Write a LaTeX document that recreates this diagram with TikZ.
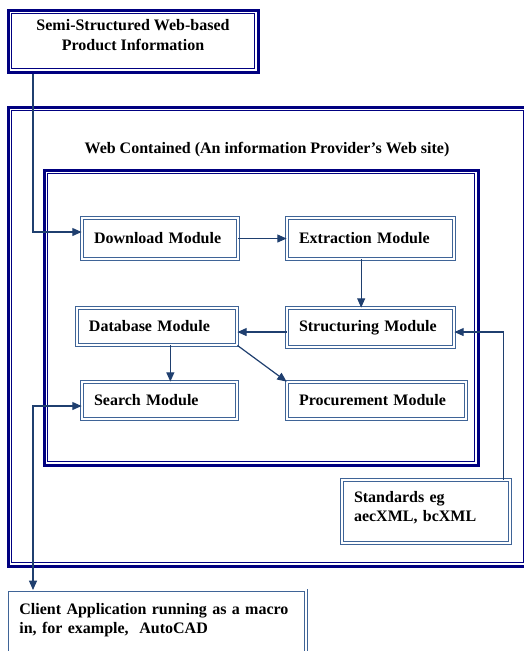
\documentclass[tikz,border=0pt]{standalone}
\usepackage{fontspec}
\setmainfont{Liberation Serif}
\usetikzlibrary{arrows.meta}

\definecolor{navyline}{HTML}{000080}
\definecolor{boxblue}{HTML}{3F6497}
\definecolor{linkblue}{HTML}{1F3F6F}

\begin{document}
\begin{tikzpicture}[x=0.75pt,y=-0.75pt,
	font=\fontsize{12}{14}\selectfont\bfseries,
	heavybox/.style={draw=navyline, line width=2.25pt, inner sep=0pt},
	modbox/.style={draw=boxblue, line width=0.6pt, double=white, double distance=1.4pt, align=left, inner xsep=9pt, text width=#1},
	link/.style={draw=linkblue, line width=0.9pt, -{Triangle[length=7pt,width=6pt]}}
]
\useasboundingbox (0,0) rectangle (524,651);

% containers
\node[heavybox, minimum width=389.25pt, minimum height=344.25pt] (web) at (267.5,336.5) {};
\draw[navyline, line width=0.8pt] ([shift={(5,5)}]web.north west) rectangle ([shift={(-5,-5)}]web.south east);
\node (webtitle) at (267,150) {Web Contained (An information Provider’s Web site)};
\node[heavybox, minimum width=325.5pt, minimum height=221.25pt] (site) at (261,317.5) {};
\draw[navyline, line width=0.8pt] ([shift={(5,5)}]site.north west) rectangle ([shift={(-5,-5)}]site.south east);
\node[heavybox, minimum width=187.5pt, minimum height=46.5pt, align=center, text depth=9pt, font=\fontsize{12}{15}\selectfont\bfseries] (semi) at (133,41) {Semi-Structured Web-based\\Product Information};
\draw[navyline, line width=0.8pt] ([shift={(5,5)}]semi.north west) rectangle ([shift={(-5,-5)}]semi.south east);

% modules
\node[modbox=99pt, minimum height=30.75pt] (download) at (160,238.5) {Download Module};
\node[modbox=107.25pt, minimum height=30.75pt] (extraction) at (370.5,238.5) {Extraction Module};
\node[modbox=102pt, minimum height=27.75pt] (database) at (157,326.5) {Database Module};
\node[modbox=107.25pt, minimum height=29.25pt] (structuring) at (370.5,327.5) {Structuring Module};
\node[modbox=98.25pt, minimum height=27.75pt] (search) at (159.5,400.5) {Search Module};
\node[modbox=116.25pt, minimum height=27.75pt] (procurement) at (376.5,400.5) {Procurement Module};
\node[modbox=108pt, minimum height=47.25pt, text depth=22pt] (standards) at (426,511.5) {Standards eg\\aecXML, bcXML};
\node[modbox=206pt, anchor=north west, inner ysep=10pt, text depth=30pt] (client) at (7,590) {Client Application running as a macro\\in, for example,~ AutoCAD};

% connectors
\coordinate (feedin) at (33,232);
\coordinate (feedout) at (33,406);
\draw[link] (semi.south -| feedin) -- (feedin) -- (download.west |- feedin);
\draw[link] (download) -- (extraction);
\draw[link] ([xshift=-7pt]extraction.south) -- ([xshift=-7pt]structuring.north);
\draw[link] ([yshift=-3.4pt]structuring.west) -- ([yshift=-3.4pt]structuring.west -| database.east);
\draw[link] ([xshift=-5pt]standards.north east) |- ([yshift=-3.4pt]structuring.east);
\draw[link] ([xshift=10pt]database.south) -- ([xshift=10pt]database.south |- search.north);
\draw[link] (database.south east) -- (procurement.north west);
\draw[link, {Triangle[length=7pt,width=6pt]}-{Triangle[length=7pt,width=6pt]}] (search.west |- feedout) -- (feedout) -- (feedout |- client.north);
\end{tikzpicture}
\end{document}
